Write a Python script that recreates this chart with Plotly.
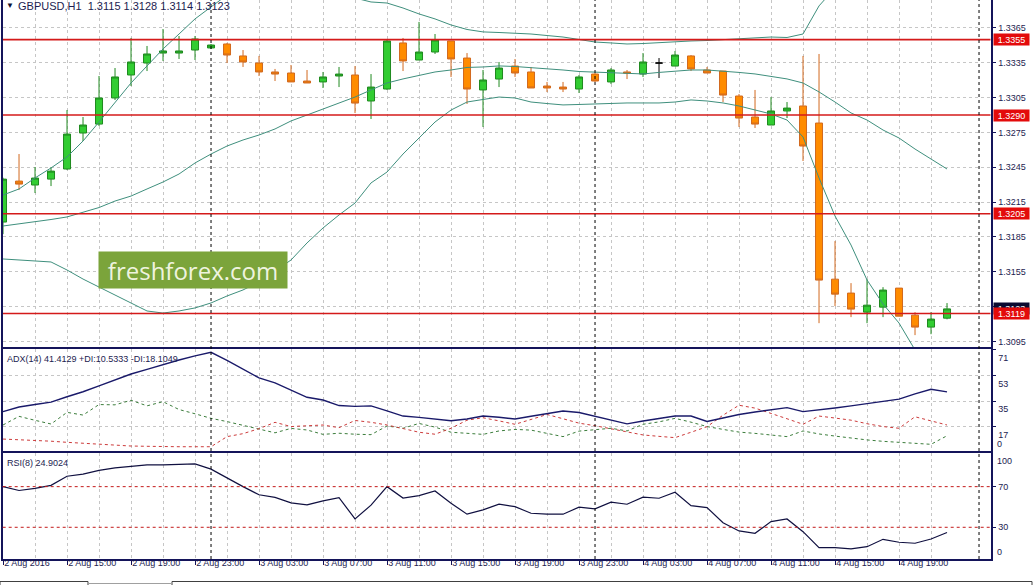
import plotly.graph_objects as go

# ---------------- data ----------------
bar_index = list(range(60))  # hourly bars, 2 Aug 11:00 .. 4 Aug 22:00

open_ = [1.31978, 1.32331, 1.32297, 1.32348, 1.32435, 1.32745, 1.32822, 1.33047, 1.33245, 1.33348,
         1.33434, 1.33434, 1.33460, 1.33478, 1.33512, 1.33409, 1.33348, 1.33271, 1.33262, 1.33193,
         1.33185, 1.33236, 1.33245, 1.33021, 1.33124, 1.33521, 1.33374, 1.33443, 1.33538, 1.33391,
         1.33116, 1.33210, 1.33322, 1.33271, 1.33150, 1.33141, 1.33124, 1.33253, 1.33185, 1.33271,
         1.33253, 1.33348, 1.33322, 1.33409, 1.33288, 1.33279, 1.33064, 1.32883, 1.32814, 1.32935,
         1.32978, 1.32831, 1.31486, 1.31366, 1.31202, 1.31245, 1.31409, 1.31176, 1.31073, 1.31150]
high = [1.32360, 1.32564, 1.32452, 1.32452, 1.32943, 1.32883, 1.33236, 1.33305, 1.33564, 1.33495,
        1.33641, 1.33581, 1.33581, 1.33512, 1.33521, 1.33460, 1.33409, 1.33297, 1.33331, 1.33288,
        1.33271, 1.33314, 1.33322, 1.33253, 1.33547, 1.33564, 1.33702, 1.33598, 1.33538, 1.33434,
        1.33288, 1.33357, 1.33383, 1.33314, 1.33185, 1.33185, 1.33245, 1.33262, 1.33305, 1.33288,
        1.33434, 1.33391, 1.33452, 1.33417, 1.33314, 1.33279, 1.33081, 1.33116, 1.33055, 1.33012,
        1.33409, 1.33426, 1.31814, 1.31452, 1.31486, 1.31417, 1.31409, 1.31202, 1.31202, 1.31280]
low = [1.31874, 1.32254, 1.32228, 1.32288, 1.32426, 1.32676, 1.32805, 1.33029, 1.33150, 1.33279,
       1.33366, 1.33383, 1.33374, 1.33469, 1.33348, 1.33314, 1.33236, 1.33193, 1.33185, 1.33176,
       1.33133, 1.33141, 1.32917, 1.32866, 1.33116, 1.33279, 1.33374, 1.33426, 1.33228, 1.32995,
       1.32797, 1.33141, 1.33228, 1.33133, 1.33098, 1.33098, 1.33090, 1.33185, 1.33167, 1.33210,
       1.33228, 1.33219, 1.33322, 1.33279, 1.33262, 1.33012, 1.32797, 1.32788, 1.32814, 1.32874,
       1.32504, 1.31107, 1.31254, 1.31159, 1.31107, 1.31159, 1.31167, 1.31004, 1.31012, 1.31140]
close = [1.32348, 1.32305, 1.32357, 1.32417, 1.32736, 1.32814, 1.33047, 1.33228, 1.33357, 1.33426,
         1.33452, 1.33452, 1.33555, 1.33503, 1.33417, 1.33357, 1.33271, 1.33253, 1.33185, 1.33176,
         1.33228, 1.33253, 1.33003, 1.33141, 1.33538, 1.33366, 1.33443, 1.33547, 1.33383, 1.33124,
         1.33202, 1.33305, 1.33262, 1.33133, 1.33133, 1.33124, 1.33228, 1.33193, 1.33288, 1.33262,
         1.33357, 1.33348, 1.33417, 1.33297, 1.33262, 1.33072, 1.32874, 1.32822, 1.32935, 1.32960,
         1.32633, 1.31478, 1.31357, 1.31228, 1.31262, 1.31392, 1.31167, 1.31073, 1.31142, 1.31230]

bb_upper = [1.32211, 1.32263, 1.32358, 1.32444, 1.32539, 1.32676, 1.32840, 1.33004, 1.33176, 1.33323,
            1.33469, 1.33598, 1.33728, 1.33831, 1.33934, 1.33977, 1.33995, 1.34003, 1.34046, 1.34003,
            1.33977, 1.33960, 1.33908, 1.33874, 1.33865, 1.33822, 1.33771, 1.33728, 1.33676, 1.33637,
            1.33616, 1.33611, 1.33607, 1.33598, 1.33585, 1.33572, 1.33551, 1.33529, 1.33521, 1.33512,
            1.33516, 1.33525, 1.33529, 1.33538, 1.33542, 1.33551, 1.33555, 1.33564, 1.33572, 1.33568,
            1.33598, 1.33840, 1.33995, 1.34055, 1.34236, 1.34270, 1.34296, 1.34339, 1.34382, 1.34425]
bb_middle = [1.31944, 1.31961, 1.31978, 1.32000, 1.32022, 1.32065, 1.32103, 1.32159, 1.32202, 1.32263,
             1.32323, 1.32392, 1.32487, 1.32564, 1.32633, 1.32685, 1.32728, 1.32780, 1.32849, 1.32900,
             1.32952, 1.32999, 1.33055, 1.33116, 1.33176, 1.33211, 1.33241, 1.33271, 1.33288, 1.33310,
             1.33314, 1.33323, 1.33318, 1.33310, 1.33297, 1.33288, 1.33275, 1.33271, 1.33262, 1.33258,
             1.33254, 1.33267, 1.33279, 1.33288, 1.33288, 1.33279, 1.33267, 1.33254, 1.33232, 1.33211,
             1.33176, 1.33099, 1.33012, 1.32918, 1.32857, 1.32771, 1.32702, 1.32607, 1.32521, 1.32435]
bb_lower = [1.31660, 1.31651, 1.31642, 1.31634, 1.31565, 1.31487, 1.31418, 1.31349, 1.31281, 1.31212,
            1.31194, 1.31212, 1.31238, 1.31281, 1.31341, 1.31393, 1.31462, 1.31556, 1.31651, 1.31798,
            1.31927, 1.32039, 1.32142, 1.32315, 1.32409, 1.32564, 1.32702, 1.32840, 1.32943, 1.33012,
            1.33034, 1.33055, 1.33047, 1.33012, 1.32999, 1.32987, 1.32991, 1.32995, 1.33004, 1.33004,
            1.33004, 1.33004, 1.33012, 1.33030, 1.33021, 1.33004, 1.32978, 1.32943, 1.32909, 1.32857,
            1.32711, 1.32358, 1.32030, 1.31780, 1.31479, 1.31272, 1.31108, 1.30876, 1.30660, 1.30445]

adx = [27.5, 30.8, 32.5, 34.2, 38.0, 41.5, 45.6, 49.8, 54.0, 57.3,
       60.7, 63.9, 66.8, 69.3, 63.6, 57.6, 51.3, 47.8, 42.5, 37.6,
       35.7, 31.8, 31.2, 31.6, 28.0, 24.4, 23.5, 22.2, 21.1, 22.3,
       24.4, 23.6, 22.3, 24.3, 26.2, 28.0, 26.9, 24.4, 21.6, 18.9,
       20.9, 22.6, 24.4, 24.4, 20.6, 23.0, 25.5, 27.3, 29.0, 30.3,
       27.5, 28.6, 30.1, 31.6, 33.3, 35.0, 36.3, 40.0, 43.3, 41.41]
plus_di = [18.1, 24.2, 21.4, 18.8, 27.0, 25.1, 32.5, 32.3, 35.5, 31.6,
           34.5, 29.0, 26.0, 22.8, 20.5, 18.0, 15.3, 12.6, 15.7, 14.6,
           11.5, 12.3, 11.6, 11.3, 17.4, 15.8, 19.2, 16.6, 13.0, 12.3,
           11.5, 13.9, 15.0, 14.5, 12.3, 9.9, 13.8, 14.6, 15.8, 13.9,
           18.6, 20.3, 22.8, 20.1, 17.0, 15.0, 13.1, 12.2, 11.2, 9.9,
           13.9, 11.8, 10.3, 8.7, 7.6, 6.6, 5.8, 5.1, 4.5, 10.53]
minus_di = [8.2, 7.8, 7.5, 6.7, 5.9, 5.2, 4.5, 3.9, 3.3, 3.1,
            2.8, 2.8, 2.8, 2.8, 9.9, 12.0, 15.5, 20.0, 17.0, 17.5,
            18.1, 16.2, 21.3, 20.0, 18.1, 15.6, 13.0, 11.6, 15.8, 21.5,
            23.2, 21.0, 18.6, 22.0, 25.5, 22.5, 19.4, 17.6, 15.5, 13.4,
            11.1, 10.1, 9.2, 13.0, 16.9, 25.0, 32.0, 30.0, 26.5, 22.5,
            18.6, 24.4, 23.0, 21.5, 19.0, 17.0, 15.8, 23.9, 21.0, 18.10]
rsi = [70.0, 66.2, 68.3, 71.3, 80.2, 82.3, 86.0, 88.5, 90.0, 91.4,
       91.4, 91.8, 92.4, 87.2, 78.3, 70.0, 62.0, 59.4, 54.0, 52.0,
       56.0, 59.2, 38.2, 51.8, 70.0, 58.8, 61.2, 65.8, 53.7, 42.9,
       47.1, 52.7, 50.3, 43.8, 42.9, 42.9, 49.8, 48.1, 54.7, 52.7,
       59.6, 58.6, 64.5, 51.3, 49.4, 34.5, 26.4, 24.1, 35.6, 38.2,
       25.7, 10.0, 10.0, 8.7, 10.9, 18.2, 15.3, 14.3, 18.5, 24.9]

tick_idx = [0, 4, 8, 12, 16, 20, 24, 28, 32, 36, 40, 44, 48, 52, 56]
tick_labels = ["2 Aug 2016", "2 Aug 15:00", "2 Aug 19:00", "2 Aug 23:00", "3 Aug 03:00",
               "3 Aug 07:00", "3 Aug 11:00", "3 Aug 15:00", "3 Aug 19:00", "3 Aug 23:00",
               "4 Aug 03:00", "4 Aug 07:00", "4 Aug 11:00", "4 Aug 15:00", "4 Aug 19:00"]
minor_idx = [2, 6, 10, 14, 18, 22, 26, 30, 34, 38, 42, 46, 50, 54, 58]
day_breaks = [13, 37, 61]
price_ticks = [1.3095, 1.3125, 1.3155, 1.3185, 1.3215, 1.3245, 1.3275, 1.3305, 1.3335, 1.3365]
price_tick_text = ["1.3095", "", "1.3155", "1.3185", "1.3215", "1.3245", "1.3275", "1.3305", "1.3335", "1.3365"]
level_prices = [1.3355, 1.3290, 1.3205, 1.3119]
bid_price = 1.3123
adx_ticks = [17, 35, 53, 71]
rsi_levels = [30, 70]

# ---------------- styling ----------------
W, H = 1033, 585
def fx(px):
    return px / W
def fy(py):
    return (H - py) / H

FONT = "Liberation Sans, Arial, sans-serif"
NAVY = "#1c1c50"
BORDER = "#14145a"
GRID = "#c6c6c6"
GDASH = "3px,3px"
BULL_FILL, BULL_LINE = "#32cd32", "#1f8a1f"
BEAR_FILL, BEAR_LINE = "#ff8c00", "#d2691e"
BB_COL = "#3f8f7d"
LEVEL_COL = "#d41a1a"
AXF = 9  # axis / panel label font size

XL, XR = 2.7, 990.7
xr = [-0.02, 61.73]

fig = go.Figure()

# candles (doji bars drawn separately in black)
doji = [i for i in bar_index if open_[i] == close[i]]
nan = float("nan")
o_main = [nan if i in doji else open_[i] for i in bar_index]
fig.add_trace(go.Candlestick(
    x=bar_index, open=o_main, high=high, low=low, close=close,
    increasing=dict(line=dict(color=BULL_LINE, width=1), fillcolor=BULL_FILL),
    decreasing=dict(line=dict(color=BEAR_LINE, width=1), fillcolor=BEAR_FILL),
    whiskerwidth=0, hoverinfo="skip", showlegend=False, xaxis="x", yaxis="y"))
o_doji = [open_[i] if i in doji else nan for i in bar_index]
fig.add_trace(go.Candlestick(
    x=bar_index, open=o_doji, high=high, low=low, close=close,
    increasing=dict(line=dict(color="#000000", width=1), fillcolor="#000000"),
    decreasing=dict(line=dict(color="#000000", width=1), fillcolor="#000000"),
    whiskerwidth=0, hoverinfo="skip", showlegend=False, xaxis="x", yaxis="y"))

for band in (bb_upper, bb_middle, bb_lower):
    fig.add_trace(go.Scatter(x=bar_index, y=band, mode="lines",
                             line=dict(color=BB_COL, width=1), hoverinfo="skip",
                             showlegend=False, xaxis="x", yaxis="y"))

# horizontal price levels (as lines across the whole x range)
for lv in level_prices:
    fig.add_trace(go.Scatter(x=xr, y=[lv, lv], mode="lines", line=dict(color=LEVEL_COL, width=1.6),
                             hoverinfo="skip", showlegend=False, xaxis="x", yaxis="y", cliponaxis=True))

# ADX panel
fig.add_trace(go.Scatter(x=bar_index, y=plus_di, mode="lines",
                         line=dict(color="#3c7d3c", width=1, dash="3px,3px"),
                         showlegend=False, xaxis="x2", yaxis="y2"))
fig.add_trace(go.Scatter(x=bar_index, y=minus_di, mode="lines",
                         line=dict(color="#cc3b3b", width=1, dash="3px,3px"),
                         showlegend=False, xaxis="x2", yaxis="y2"))
fig.add_trace(go.Scatter(x=bar_index, y=adx, mode="lines",
                         line=dict(color="#1a1a6a", width=1.4),
                         showlegend=False, xaxis="x2", yaxis="y2"))

# RSI panel
fig.add_trace(go.Scatter(x=bar_index, y=rsi, mode="lines",
                         line=dict(color="#101040", width=1.2),
                         showlegend=False, xaxis="x3", yaxis="y3"))

tickfont = dict(family=FONT, size=AXF, color=NAVY)
common_x = dict(range=xr, domain=[fx(XL), fx(XR)], tickvals=tick_idx, showgrid=True,
                gridcolor=GRID, griddash=GDASH, gridwidth=1, zeroline=False,
                minor=dict(tickvals=minor_idx, showgrid=True, gridcolor=GRID, griddash=GDASH, gridwidth=1),
                showline=True, linecolor=BORDER, linewidth=1.5, fixedrange=True,
                automargin=False, tickangle=0)
common_y = dict(side="right", ticks="outside", ticklen=4, tickcolor=BORDER, tickfont=tickfont,
                zeroline=False, showline=True, linecolor=BORDER, linewidth=1.5, mirror=True,
                fixedrange=True, automargin=False)

fig.update_layout(
    width=W, height=H, margin=dict(l=0, r=0, t=0, b=0, pad=0, autoexpand=False),
    paper_bgcolor="white", plot_bgcolor="white", showlegend=False,
    boxgap=0.375,
    xaxis=dict(**common_x, anchor="y", showticklabels=False, ticks="", mirror=False,
               rangeslider=dict(visible=False)),
    yaxis=dict(**common_y, domain=[fy(347.3), 1.0], range=[1.30899, 1.33891], anchor="x",
               tickvals=price_ticks, ticktext=price_tick_text, showgrid=True, gridcolor=GRID,
               griddash=GDASH),
    xaxis2=dict(**common_x, anchor="y2", showticklabels=False, ticks="", mirror=True),
    yaxis2=dict(**common_y, domain=[fy(451.0), fy(349.0)], range=[-0.21, 71.62], anchor="x2",
                tickvals=adx_ticks, ticklabelshift=8, showgrid=True, gridcolor=GRID,
                griddash=GDASH),
    xaxis3=dict(**common_x, anchor="y3", ticktext=tick_labels, ticks="outside", ticklen=4,
                tickcolor=BORDER, tickfont=tickfont, ticklabelposition="outside right",
                ticklabelstandoff=-6, mirror=True),
    yaxis3=dict(**common_y, domain=[fy(559.0), fy(452.5)], range=[-1.2, 103.6], anchor="x3",
                tickvals=rsi_levels, showgrid=False),
)

shapes = []
# day separators through all panels
for d in day_breaks:
    shapes.append(dict(type="line", xref="x", yref="paper", x0=d, x1=d, y0=fy(559.0), y1=1.0,
                       line=dict(color="#000000", width=1, dash="3px,3px"), layer="above"))
# RSI levels
for lv in rsi_levels:
    shapes.append(dict(type="line", xref="x3 domain", yref="y3", x0=0, x1=1, y0=lv, y1=lv,
                       line=dict(color="#c41a1a", width=1, dash="3px,3px"), layer="above"))
# bottom tab bar
shapes.append(dict(type="rect", xref="paper", yref="paper", x0=fx(0), x1=fx(88), y0=fy(586), y1=fy(581.5),
                   line=dict(color="#404040", width=1), fillcolor="#ffffff"))
shapes.append(dict(type="rect", xref="paper", yref="paper", x0=fx(172), x1=fx(1032), y0=fy(586), y1=fy(581.5),
                   line=dict(color="#404040", width=1), fillcolor="#ffffff"))
shapes.append(dict(type="line", xref="paper", yref="paper", x0=fx(88), x1=fx(172), y0=fy(583.5), y1=fy(583.5),
                   line=dict(color="#a0a0a0", width=1)))
fig.update_layout(shapes=shapes)

ann = []
# header texts
ann.append(dict(xref="paper", yref="paper", x=fx(4), y=fy(5.5), xanchor="left", yanchor="middle",
                text="▼", showarrow=False, font=dict(family=FONT, size=8, color="#101030")))
ann.append(dict(xref="paper", yref="paper", x=fx(16), y=fy(6), xanchor="left", yanchor="middle",
                text="GBPUSD,H1\u00a0\u00a01.3115 1.3128 1.3114 1.3123", showarrow=False,
                font=dict(family=FONT, size=11, color=NAVY)))
ann.append(dict(xref="paper", yref="paper", x=fx(5), y=fy(358.5), xanchor="left", yanchor="middle",
                text="ADX(14) 41.4129 +DI:10.5333 -DI:18.1049", showarrow=False,
                font=dict(family=FONT, size=AXF, color=NAVY)))
ann.append(dict(xref="paper", yref="paper", x=fx(5), y=fy(463), xanchor="left", yanchor="middle",
                text="RSI(8) 24.9024", showarrow=False, font=dict(family=FONT, size=AXF, color=NAVY)))
# edge scale labels
ann.append(dict(xref="paper", yref="paper", x=fx(995), y=fy(444), xanchor="left", yanchor="middle",
                text="0", showarrow=False, font=dict(family=FONT, size=AXF, color=NAVY)))
ann.append(dict(xref="paper", yref="paper", x=fx(995), y=fy(461), xanchor="left", yanchor="middle",
                text="100", showarrow=False, font=dict(family=FONT, size=AXF, color=NAVY)))
ann.append(dict(xref="paper", yref="paper", x=fx(995), y=fy(552), xanchor="left", yanchor="middle",
                text="0", showarrow=False, font=dict(family=FONT, size=AXF, color=NAVY)))
# price labels: bid (black) then levels (red)
ann.append(dict(xref="paper", yref="y", x=fx(993), y=bid_price, xanchor="left", yanchor="middle",
                text=f"{bid_price:.4f}", showarrow=False, bgcolor="#0a0a30", borderpad=0,
                width=35, height=11, font=dict(family=FONT, size=AXF, color="white")))
for lv in level_prices:
    ann.append(dict(xref="paper", yref="y", x=fx(993), y=lv, xanchor="left", yanchor="middle",
                    text=f"{lv:.4f}", showarrow=False, bgcolor="#e30b0b", borderpad=0,
                    width=35, height=11, font=dict(family=FONT, size=AXF, color="white")))
# watermark
ann.append(dict(xref="paper", yref="paper", x=fx(193), y=fy(270), xanchor="center", yanchor="middle",
                text="freshforex.com", showarrow=False, width=186, height=34, bgcolor="#7ba43b",
                font=dict(family="Open Sans, Noto Sans, sans-serif", size=24, color="rgba(255,255,245,0.9)")))
fig.update_layout(annotations=ann)

fig.write_html("out.html", config={"displayModeBar": False},
               post_script="document.body.style.margin='0';document.body.style.overflow='hidden';")
